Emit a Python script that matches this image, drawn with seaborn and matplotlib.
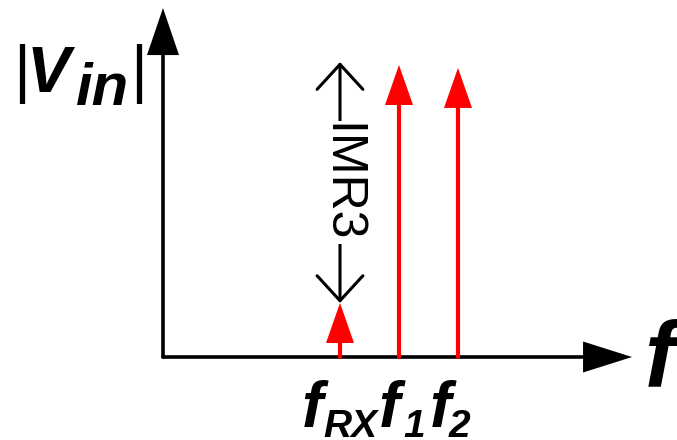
import numpy as np
import pandas as pd
import matplotlib.pyplot as plt
import seaborn as sns

# two-tone test spectrum: the IM3 product at f_RX and the two tones f1, f2
tones = ["f_RX", "f_1", "f_2"]
tone_freq = [3.0, 4.0, 5.0]
tone_amp = [0.185, 1.0, 0.99]
tone_sub = ["RX", "1", "2"]
imr3_top = 1.01
imr3_label = "IMR3"

sns.set_theme(style="white")
plt.rcParams["font.family"] = ["Liberation Sans", "DejaVu Sans"]

W, H = 677, 440
PX_X, PX_Y = 59.0, 292.0      # pixels per frequency unit / amplitude unit
ORIGIN = (163, 357)           # pixel position of the axis corner
X_END, Y_END = 7.95, 1.195    # where the axis arrows end

fig = plt.figure(figsize=(W / 100, H / 100), dpi=100)
ax = fig.add_axes([0, 0, 1, 1])
ax.set_xlim(-ORIGIN[0] / PX_X, (W - ORIGIN[0]) / PX_X)
ax.set_ylim(-(H - ORIGIN[1]) / PX_Y, ORIGIN[1] / PX_Y)
ax.axis("off")


def head_up(x, y, length, half, color):
    ax.fill([x - half / PX_X, x, x + half / PX_X],
            [y - length / PX_Y, y, y - length / PX_Y], color=color, lw=0, zorder=4)


def head_right(x, y, length, half, color):
    ax.fill([x - length / PX_X, x, x - length / PX_X],
            [y - half / PX_Y, y, y + half / PX_Y], color=color, lw=0, zorder=4)


def px_text(x, y, s, **kw):
    ax.text(x / W, 1 - y / H, s, transform=ax.transAxes, ha="left", va="baseline", **kw)


# axes
ax.plot([0, 0], [0, Y_END - 40 / PX_Y], color="black", lw=2.6, zorder=2)
ax.plot([0, X_END - 40 / PX_X], [0, 0], color="black", lw=2.6, zorder=2)
head_up(0, Y_END, 47, 16, "black")
head_right(X_END, 0, 49, 15.5, "black")

# red tones
RED_HEAD = 40
df = pd.DataFrame({
    "tone": np.repeat(tones, 2),
    "freq": np.repeat(tone_freq, 2),
    "amp": [v for a in tone_amp for v in (0.0, a - RED_HEAD / PX_Y)],
})
sns.lineplot(data=df, x="freq", y="amp", units="tone", estimator=None, sort=False,
             color="red", lw=3, legend=False, ax=ax, zorder=3)
for f, a in zip(tone_freq, tone_amp):
    head_up(f, a, RED_HEAD, 14, "red")

# IMR3 bracket
ax.annotate("", xy=(tone_freq[0], imr3_top), xytext=(tone_freq[0], tone_amp[0]),
            arrowprops=dict(arrowstyle="<->,head_length=18,head_width=16.5",
                            mutation_scale=1, lw=2.2, color="black",
                            shrinkA=0, shrinkB=0))
ax.text(tone_freq[0], (imr3_top + tone_amp[0]) / 2, imr3_label, rotation=-90,
        ha="center", va="center", fontsize=36, color="black",
        bbox=dict(fc="white", ec="none", pad=1), zorder=5)

# frequency labels under the tones
bold_it = dict(fontweight="bold", fontstyle="italic", color="black")
main_dx = [-38, -20, -28]
sub_dx = [-17, 4, -9]
for f, sub, dm, ds in zip(tone_freq, tone_sub, main_dx, sub_dx):
    ax.annotate("f", xy=(f, 0), xytext=(dm, -70), textcoords="offset pixels",
                ha="left", va="baseline", fontsize=46, **bold_it)
    ax.annotate(sub, xy=(f, 0), xytext=(ds, -80), textcoords="offset pixels",
                ha="left", va="baseline", fontsize=28, **bold_it)

# axis names
px_text(13, 91, "|", fontsize=47, color="black")
px_text(27, 92, "V", fontsize=47, **bold_it)
px_text(76, 105, "in", fontsize=43, **bold_it)
px_text(130, 91, "|", fontsize=47, color="black")
px_text(645, 385, "f", fontsize=66, **bold_it)

fig.savefig("out.png", dpi=100)
